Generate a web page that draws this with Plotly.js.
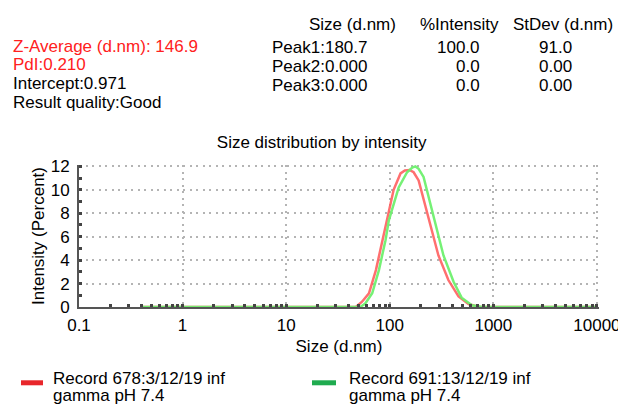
<!DOCTYPE html>
<html>
<head>
<meta charset="utf-8">
<script src="https://cdn.plot.ly/plotly-3.0.1.min.js"></script>
<style>
html,body{margin:0;padding:0;background:#fff;}
#chart{width:618px;height:404px;}
</style>
</head>
<body>
<div id="chart"></div>
<script>
// ---- data ----
var redSize = [0.4, 40, 47, 54, 63, 73.5, 85, 94, 109, 127, 140, 155, 170, 190, 237, 295, 368, 461, 577, 718, 10000];
var redIntensity = [0, 0, 0, 0.45, 1.17, 3.15, 5.7, 7.7, 10.0, 11.4, 11.65, 11.7, 11.5, 10.8, 7.5, 4.4, 2.3, 0.9, 0.25, 0, 0];
var greenSize = [0.4, 45, 52, 58, 67.7, 78.6, 91, 98, 122, 147, 165, 177, 190, 212, 265, 330, 413, 494, 620, 770, 10000];
var greenIntensity = [0, 0, 0, 0.3, 1.17, 3.15, 5.7, 7.4, 10.2, 11.5, 11.9, 12.0, 11.8, 11.1, 7.7, 4.4, 2.15, 0.8, 0.15, 0, 0];
var legendLine1 = ["Record 678:3/12/19 inf", "Record 691:13/12/19 inf"];
var legendLine2 = ["gamma pH 7.4", "gamma pH 7.4"];
var xTickVals = [0.1, 1, 10, 100, 1000, 10000];
var xTickText = ["0.1", "1", "10", "100", "1000", "10000"];
var yTickVals = [0, 2, 4, 6, 8, 10, 12];
var yTickText = ["0", "2", "4", "6", "8", "10", "12"];
var leftInfo = ["Z-Average (d.nm): 146.9", "PdI:0.210", "Intercept:0.971", "Result quality:Good"];
var tableHeader = ["Size (d.nm)", "%Intensity", "StDev (d.nm)"];
var peakLabels = ["Peak1:180.7", "Peak2:0.000", "Peak3:0.000"];
var peakIntensity = ["100.0", "0.0", "0.0"];
var peakStDev = ["91.0", "0.00", "0.00"];

// ---- layout helpers (pixel -> paper) ----
var W = 618, H = 404, L = 79, R = 19, T = 164.6, B = 97;
var PW = W - L - R, PH = H - T - B;
function px(x){ return (x - L) / PW; }
function py(y){ return (H - B - y) / PH; }

var FONT = '"Liberation Sans", Arial, Helvetica, sans-serif';
var FS = 17;
var ann = [];
function txt(text, x, y, xanchor, color){
  ann.push({text: text, xref: 'paper', yref: 'paper', x: px(x), y: py(y),
    xanchor: xanchor, yanchor: 'middle', showarrow: false, align: 'left',
    font: {family: FONT, size: FS, color: color || '#000'}, borderpad: 0});
}
var leftY = [45.5, 64, 82.5, 101.5];
leftInfo.forEach(function(t, i){ txt(t, 12, leftY[i], 'left', i < 2 ? '#ff2020' : '#000'); });
var headX = [352.5, 459.5, 562.5];
tableHeader.forEach(function(t, i){ txt(t, headX[i], 23.5, 'center'); });
var rowY = [47, 66, 84.5];
peakLabels.forEach(function(t, i){ txt(t, 271, rowY[i], 'left'); });
peakIntensity.forEach(function(t, i){ txt(t, 481, rowY[i], 'right'); });
peakStDev.forEach(function(t, i){ txt(t, 573, rowY[i], 'right'); });

// legend (manual)
var legendColors = ['#e8262b', '#1fab4f'];
var legendX = [[21, 43], [312, 336]];
var legendTextX = [52, 348];
var shapes = [];
legendLine1.forEach(function(n, i){
  shapes.push({type: 'line', xref: 'paper', yref: 'paper', x0: px(legendX[i][0]), x1: px(legendX[i][1]),
    y0: py(383), y1: py(383), line: {color: legendColors[i], width: 5}});
  txt(legendLine1[i], legendTextX[i], 378.5, 'left');
  txt(legendLine2[i], legendTextX[i], 395.5, 'left');
});

var traces = [
  {x: redSize, y: redIntensity, type: 'scatter', mode: 'lines', name: legendLine1[0],
   line: {color: 'rgba(255,95,95,0.9)', width: 2.5}, showlegend: false},
  {x: greenSize, y: greenIntensity, type: 'scatter', mode: 'lines', name: legendLine1[1],
   line: {color: 'rgba(110,240,110,0.95)', width: 2.5}, showlegend: false}
];

var gridStyle = {showgrid: true, gridcolor: '#b4b4b4', gridwidth: 2, griddash: '2px,4.5px'};

var layout = {
  width: W, height: H,
  margin: {l: L, r: R, t: T, b: B, pad: 0},
  paper_bgcolor: '#fff', plot_bgcolor: '#fff',
  font: {family: FONT, size: FS, color: '#000'},
  showlegend: false,
  title: {text: 'Size distribution by intensity', x: 321.7 / W, xref: 'container', xanchor: 'center',
    y: 1 - 142 / H, yref: 'container', yanchor: 'middle', font: {family: FONT, size: FS, color: '#000'}},
  xaxis: Object.assign({
    type: 'log', range: [-1, 4.02], tickmode: 'array', tickvals: xTickVals, ticktext: xTickText,
    showline: true, linecolor: '#555', linewidth: 2, zeroline: false,
    ticks: 'inside', ticklen: 3, tickwidth: 3, tickcolor: '#444',
    minor: {ticks: 'inside', ticklen: 3, tickwidth: 3, tickcolor: '#444', dtick: 'D1', showgrid: false},
    tickfont: {family: FONT, size: FS}, ticklabelstandoff: 2, ticklabeloverflow: 'allow',
    title: {text: 'Size (d.nm)', font: {family: FONT, size: FS}, standoff: 6}
  }, gridStyle),
  yaxis: Object.assign({
    range: [0, 12.12], tickmode: 'array', tickvals: yTickVals, ticktext: yTickText,
    showline: true, linecolor: '#555', linewidth: 2, zeroline: false,
    ticks: 'inside', ticklen: 3, tickwidth: 3, tickcolor: '#444',
    minor: {ticks: 'inside', ticklen: 3, tickwidth: 3, tickcolor: '#444', dtick: 1, showgrid: false},
    tickfont: {family: FONT, size: FS}, ticklabelstandoff: 4, ticklabeloverflow: 'allow',
    title: {text: 'Intensity (Percent)', font: {family: FONT, size: FS}, standoff: 2}
  }, gridStyle),
  annotations: ann,
  shapes: shapes
};

Plotly.newPlot('chart', traces, layout, {staticPlot: true, displayModeBar: false});
</script>
</body>
</html>
